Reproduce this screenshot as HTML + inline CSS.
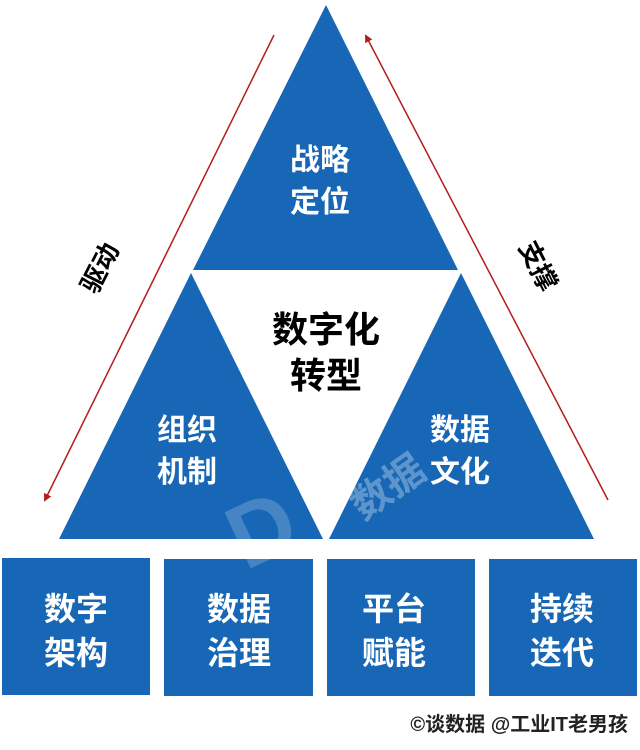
<!DOCTYPE html>
<html><head><meta charset="utf-8"><style>
body{margin:0;width:640px;height:750px;background:#fff;overflow:hidden}
svg{display:block}
text{font-family:"Liberation Sans","Noto Sans CJK SC",sans-serif;font-weight:bold}
</style></head><body>
<svg width="640" height="750" viewBox="0 0 640 750">
<defs><marker id="ah" markerWidth="8" markerHeight="8" refX="6" refY="4" orient="auto" markerUnits="userSpaceOnUse"><path d="M0,0 L8,4 L0,8 z" fill="#b51c1c"/></marker></defs>
<g fill="#1767b6">
<polygon points="326,5 458,270 193,270"/>
<polygon points="191,273 323,539 59,539"/>
<polygon points="461,273 594,539 329,539"/>
<rect x="2" y="558" width="148" height="137"/>
<rect x="164" y="559" width="149" height="137"/>
<rect x="327" y="559" width="148" height="137"/>
<rect x="489" y="559" width="148" height="137"/>
</g>
<line x1="274" y1="35" x2="45" y2="500" stroke="#b51c1c" stroke-width="1.5" marker-end="url(#ah)"/>
<line x1="608" y1="500" x2="366" y2="36" stroke="#b51c1c" stroke-width="1.5" marker-end="url(#ah)"/>
<text x="390" y="500" font-size="40" fill="#fff" fill-opacity="0.3" text-anchor="middle" transform="rotate(-35 390 490)">数据</text>
<text x="262" y="560" font-size="90" fill="#fff" fill-opacity="0.2" text-anchor="middle" font-family="Liberation Serif" transform="rotate(-25 262 530)">D</text>
<g fill="#fff" font-size="30" text-anchor="middle">
<text x="320" y="170">战略</text><text x="320" y="212">定位</text>
<text x="187" y="440">组织</text><text x="187" y="482">机制</text>
<text x="460" y="440">数据</text><text x="460" y="482">文化</text>
</g>
<g fill="#fff" font-size="32" text-anchor="middle">
<text x="76" y="620">数字</text><text x="76" y="664">架构</text>
<text x="239" y="620">数据</text><text x="239" y="664">治理</text>
<text x="394" y="620">平台</text><text x="394" y="664">赋能</text>
<text x="562" y="620">持续</text><text x="562" y="664">迭代</text>
</g>
<g fill="#000" font-size="36" text-anchor="middle">
<text x="326" y="342">数字化</text><text x="326" y="388">转型</text>
</g>
<text x="108" y="272" font-size="26" text-anchor="middle" transform="rotate(-63 108 272)">驱动</text>
<text x="530" y="270" font-size="26" text-anchor="middle" transform="rotate(63 530 270)">支撑</text>
<text x="628" y="731" font-size="20" fill="#222" text-anchor="end">©谈数据 @工业IT老男孩</text>
</svg>
</body></html>
